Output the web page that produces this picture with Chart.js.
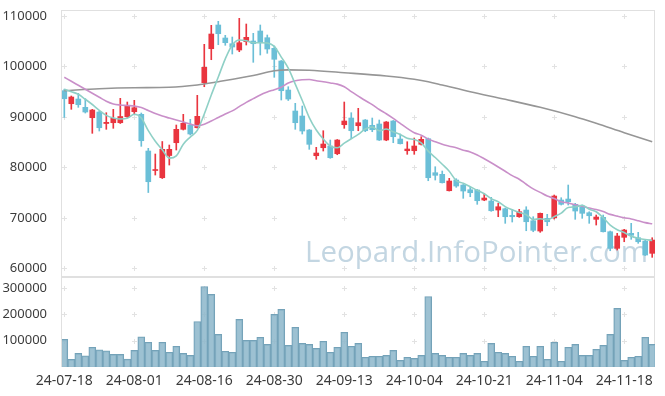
<!DOCTYPE html>
<html><head><meta charset="utf-8">
<script src="https://cdn.jsdelivr.net/npm/chart.js@4.4.1/dist/chart.umd.min.js"></script>
<style>
html,body{margin:0;padding:0;background:#fff;}
#wrap{position:relative;width:665px;height:396px;overflow:hidden;}
.pane{position:absolute;left:0;width:665px;}
</style></head><body>
<div id="wrap">
<div class="pane" style="top:0;height:277px"><canvas id="pc" width="665" height="277"></canvas></div>
<div class="pane" style="top:277px;height:119px"><canvas id="vc" width="665" height="119"></canvas></div>
</div>
<script>
// ---------- data ----------
const dates = ['24-07-18','24-07-19','24-07-22','24-07-23','24-07-24','24-07-25','24-07-26','24-07-29','24-07-30','24-07-31',
'24-08-01','24-08-02','24-08-05','24-08-06','24-08-07','24-08-08','24-08-09','24-08-12','24-08-13','24-08-14',
'24-08-16','24-08-19','24-08-20','24-08-21','24-08-22','24-08-23','24-08-26','24-08-27','24-08-28','24-08-29',
'24-08-30','24-09-02','24-09-03','24-09-04','24-09-05','24-09-06','24-09-09','24-09-10','24-09-11','24-09-12',
'24-09-13','24-09-19','24-09-20','24-09-23','24-09-24','24-09-25','24-09-26','24-09-27','24-09-30','24-10-02',
'24-10-04','24-10-07','24-10-08','24-10-10','24-10-11','24-10-14','24-10-15','24-10-16','24-10-17','24-10-18',
'24-10-21','24-10-22','24-10-23','24-10-24','24-10-25','24-10-28','24-10-29','24-10-30','24-10-31','24-11-01',
'24-11-04','24-11-05','24-11-06','24-11-07','24-11-08','24-11-11','24-11-12','24-11-13','24-11-14','24-11-15',
'24-11-18','24-11-19','24-11-20','24-11-21','24-11-22'];

const open = [95200,92618,93549,91904,89843,90973,88694,88852,88852,90041,
91032,90517,83243,79378,77951,82351,84888,87544,88397,87860,
96780,103519,108216,105640,104510,103261,104906,105045,107027,105699,
103598,101081,95333,91170,90180,87405,82311,83896,84234,82708,
88455,89784,88258,89387,88337,88595,85423,89189,85621,83302,
83302,84571,85680,78942,78625,75374,77495,76504,75572,75513,
73531,73333,71549,71806,70500,70222,71549,69428,67387,69904,
70024,73531,73729,72680,72203,71014,69705,70103,67248,63958,
66138,66931,66059,65405,62967];
const high = [95500,94144,94679,93610,91508,91170,90835,91508,93688,92955,
93292,90775,83778,82648,85126,84432,88397,90517,89526,94283,
104391,108157,108950,106175,105838,109544,108414,106571,108216,106234,
104054,101180,95987,92697,92162,87504,83976,87266,85423,85522,
92955,90835,91706,89487,89784,89387,89090,89288,86613,85086,
85820,86077,85820,80131,79279,77832,77753,76603,76167,75612,
74858,74066,72877,71945,71688,71688,72203,70222,70956,70698,
74522,73987,76504,72877,72541,71212,70558,70558,67387,66931,
67724,68912,67130,65603,66059];
const low = [89900,91508,91904,90775,86751,87207,87544,87742,88694,89880,
90578,84175,75017,78486,77793,80468,83441,87405,86415,87800,
95987,101339,104312,104193,102468,102924,104252,100823,102270,102607,
97850,93351,93252,87544,86613,83580,81598,83243,81796,82509,
87742,85720,87266,87068,87068,85324,85285,84888,84630,82589,
82589,84432,77356,77495,76901,75315,76048,73868,74185,72680,
73393,71291,70222,68912,69170,70103,67446,67248,67130,68437,
69765,72541,72541,69705,69904,68912,68576,67189,63482,63621,
65266,65742,64950,62531,62174];
const close = [93600,93946,92420,90973,91369,87860,88932,89724,90081,92103,
91825,85285,77158,79576,83580,83580,87544,88733,86613,90120,
99832,106432,106492,104708,103856,104708,105778,104510,104708,103459,
101418,95195,93549,88852,87207,84571,82846,84630,81915,85423,
89189,87266,88852,87266,87465,85423,88991,86078,84690,83639,
84234,85561,77951,78427,76960,77297,76306,75315,74977,73393,
73928,71410,72203,70222,70222,71212,69230,67526,70896,69230,
74324,72680,73194,71351,70896,70420,70162,67248,63958,66396,
67585,66535,65266,62630,65603];
const volume = [105000,29000,52000,42000,75000,65000,61000,48000,48000,30000,
63000,115000,94000,63000,94000,56000,79000,52000,44000,173000,
306000,276000,124000,60000,56000,181000,101000,101000,113000,86000,
200000,219000,82000,151000,90000,86000,71000,98000,56000,75000,
132000,79000,90000,37000,41000,41000,44000,63000,25000,37000,
33000,44000,268000,52000,44000,37000,37000,52000,44000,52000,
22000,90000,56000,52000,41000,22000,79000,41000,79000,29000,
94000,22000,75000,86000,44000,44000,67000,82000,124000,223000,
25000,37000,41000,113000,86000];
const ma5 = [95470,95000,94480,93500,92462,91314,90311,89772,89593,89740,
90533,89804,87290,85189,83485,81836,82288,84603,86010,87318,
90568,94346,97898,101517,104264,105239,105108,104712,104712,104633,
103975,101858,99666,96495,93244,89875,87405,85621,84234,83877,
84801,85685,86529,87599,88008,87254,87599,87045,86529,85764,
85526,84840,83215,81962,80627,79239,77388,76861,76171,75458,
74784,73805,73182,72231,71597,71054,70618,69682,69817,69619,
70241,70931,72065,72156,72489,71708,71205,70015,68555,67655,
67088,66363,65967,65701,65542];
const ma20 = [97850,97058,96265,95472,94679,93886,93094,92558,92360,92261,
92162,91865,91270,90676,90180,89784,89387,88991,88595,88251,
88563,89187,89891,90577,91202,92044,92886,93626,94357,94925,
95405,95900,96720,97183,97365,97414,97179,96974,96739,96504,
95972,95014,94132,93260,92440,91476,90637,89715,88714,87723,
86864,86382,85602,85081,84569,84205,83878,83412,83066,82464,
81701,80908,80076,79224,78361,77651,76663,75735,75045,74325,
73830,73185,72948,72594,72291,71947,71640,71236,70685,70335,
70018,69775,69428,69048,68817];
const ma120Idx = [0,5,10,15,19,22,27,30,32,35,40,46,50,52,54,58,63,68,73,76,80,84];
const ma120 = [95195,95590,95789,95868,96324,96978,98200,99158,99330,99238,98762,98108,97454,96978,96324,94996,93490,91904,90041,88733,86870,85086];
const priceTicks = [60000,70000,80000,90000,100000,110000];
const volTicks = [100000,200000,300000];
const xTickIdx = [0,10,20,30,40,50,60,70,80];

// ---------- styling ----------
const UP = '#e9353f', DOWN = '#6bbfd7';
const FONT = {family:'"Noto Sans", sans-serif', size:13};
const XFONT = {family:'"Noto Sans", sans-serif', size:14};
const TICK_COLOR = '#3c3c3c';
const candleColor = ctx => { const i = ctx.dataIndex; return close[i] >= open[i] ? UP : DOWN; };

const deco = {
  id:'deco',
  beforeDatasetsDraw(chart, args, opts){
    const ctx = chart.ctx, a = chart.chartArea, xs = chart.scales.x, ys = chart.scales.y;
    ctx.save();
    if (opts.watermark){
      let f = 100; ctx.font = f + 'px "Open Sans", sans-serif';
      const w = ctx.measureText(opts.watermark).width;
      f = f * 343 / w;
      ctx.font = f + 'px "Open Sans", sans-serif';
      ctx.fillStyle = '#c3d6e2';
      ctx.textBaseline = 'alphabetic';
      ctx.textAlign = 'left';
      ctx.fillText(opts.watermark, 305, 262);
    }
    ctx.strokeStyle = '#e2e2e2'; ctx.lineWidth = 1;
    ctx.beginPath();
    xTickIdx.forEach(xv => {
      const px = Math.round(xs.getPixelForValue(xv));
      (opts.yTicks||[]).forEach(yv => {
        const py = Math.round(ys.getPixelForValue(yv));
        ctx.moveTo(px-2, py+0.5); ctx.lineTo(px+3, py+0.5);
        ctx.moveTo(px+0.5, py-2); ctx.lineTo(px+0.5, py+3);
      });
    });
    ctx.stroke();
    ctx.strokeStyle = '#e0e0e0';
    ctx.strokeRect(Math.round(a.left)-0.5, Math.round(a.top)+0.5, Math.round(a.right-a.left), Math.round(a.bottom-a.top)-1);
    ctx.restore();
  }
};

const yFit = s => { s.width = 62; s.paddingTop = 0; s.paddingBottom = 0; };

new Chart(document.getElementById('pc'), {
  type:'bar',
  data:{datasets:[
    {type:'line', data: ma5.map((v,i)=>({x:i,y:v})), borderColor:'#8fd0c6', borderWidth:1.6, pointRadius:0, cubicInterpolationMode:'monotone', order:0},
    {type:'line', data: ma20.map((v,i)=>({x:i,y:v})), borderColor:'#c98fc9', borderWidth:1.6, pointRadius:0, cubicInterpolationMode:'monotone', order:0},
    {type:'line', data: ma120Idx.map((x,k)=>({x:x,y:ma120[k]})), borderColor:'#969696', borderWidth:1.6, pointRadius:0, cubicInterpolationMode:'monotone', order:0},
    {type:'bar', data: open.map((o,i)=>({x:i,y:[o,close[i]]})), backgroundColor:candleColor, borderWidth:0, barThickness:5, minBarLength:1, grouped:false, order:1},
    {type:'bar', data: low.map((l,i)=>({x:i,y:[l,high[i]]})), backgroundColor:candleColor, borderWidth:0, barThickness:1, grouped:false, order:2}
  ]},
  options:{
    responsive:false, animation:false, events:[],
    layout:{padding:{top:10,right:10,left:0,bottom:0}},
    plugins:{legend:{display:false}, tooltip:{enabled:false}, deco:{yTicks:priceTicks, watermark:'Leopard.InfoPointer.com'}},
    scales:{
      x:{type:'linear', min:-0.33, max:84.4, offset:false, display:false, grid:{offset:false}},
      y:{min:58276, max:111190, afterBuildTicks:s=>{s.ticks = priceTicks.map(v=>({value:v}));}, afterFit:yFit,
         grid:{display:false}, border:{display:false},
         ticks:{padding:7, color:TICK_COLOR, font:FONT, callback:v=>String(v)}}
    }
  },
  plugins:[deco]
});

new Chart(document.getElementById('vc'), {
  type:'bar',
  data:{datasets:[
    {data: volume.map((v,i)=>({x:i,y:v})), backgroundColor:'rgba(140,182,202,0.85)', borderColor:'#74a2b8', borderWidth:{top:1,left:1,right:1,bottom:0}, barThickness:7, grouped:false}
  ]},
  options:{
    responsive:false, animation:false, events:[],
    layout:{padding:{top:0,right:10,left:0,bottom:0}},
    plugins:{legend:{display:false}, tooltip:{enabled:false}, deco:{yTicks:volTicks}},
    scales:{
      x:{type:'linear', min:-0.33, max:84.4, offset:false, grid:{display:false, offset:false}, border:{display:false},
         afterBuildTicks:s=>{s.ticks = xTickIdx.map(v=>({value:v}));},
         afterFit:s=>{s.height = 29; s.paddingLeft = 0; s.paddingRight = 0;},
         ticks:{padding:-2, color:TICK_COLOR, font:XFONT, maxRotation:0, autoSkip:false, callback:v=>dates[v]}},
      y:{min:0, max:342000, afterBuildTicks:s=>{s.ticks = volTicks.map(v=>({value:v}));}, afterFit:yFit,
         grid:{display:false}, border:{display:false},
         ticks:{padding:7, color:TICK_COLOR, font:FONT, callback:v=>String(v)}}
    }
  },
  plugins:[deco]
});
</script>
</body></html>
